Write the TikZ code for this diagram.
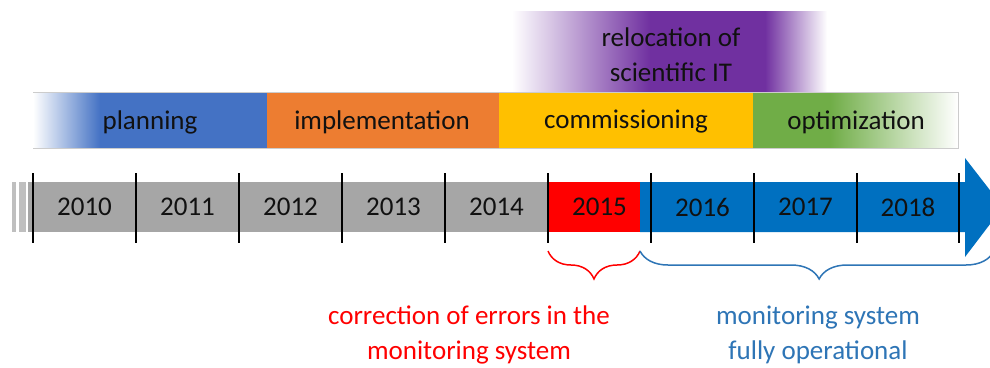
\documentclass[tikz,border=0pt]{standalone}
\usepackage{fontspec}
\setmainfont{Carlito}
\usetikzlibrary{decorations.pathreplacing}

\definecolor{planblue}{HTML}{4472C4}
\definecolor{implorange}{HTML}{ED7D31}
\definecolor{commyellow}{HTML}{FFC000}
\definecolor{optgreen}{HTML}{70AD47}
\definecolor{relpurple}{HTML}{7030A0}
\definecolor{yeargray}{HTML}{A6A6A6}
\definecolor{stubgray}{HTML}{BFBFBF}
\definecolor{lineblue}{HTML}{0070C0}
\definecolor{errred}{HTML}{FF0000}
\definecolor{opblue}{HTML}{2E75B6}
\definecolor{inkdark}{HTML}{111111}

\tikzset{
  label27/.style={text=inkdark, font=\fontsize{27}{35}\selectfont, inner sep=0pt, align=center},
  yearlabel/.style={label27},
  tick/.style={draw=black, line width=2.8pt},
  bracebase/.style={decorate, line width=1.5pt,
    decoration={brace, mirror, amplitude=28pt}},
}

\begin{document}
\begin{tikzpicture}[x=1pt, y=-1pt]
  \clip (0,0) rectangle (990,367);
  \fill[white] (0,0) rectangle (990,367);

  % relocation band with soft edges
  \shade[left color=white, right color=relpurple] (512,11) rectangle (650,92);
  \fill[relpurple] (649.5,11) rectangle (765.5,92);
  \shade[left color=relpurple, right color=white] (765,11) rectangle (827,92);
  \node[label27] (reloc) at (671,54.5) {relocation of\\scientific IT};

  % project phases
  \shade[left color=white, right color=planblue] (33,93) rectangle (100,148);
  \fill[planblue] (99.5,93) rectangle (267,148);
  \fill[implorange] (267,93) rectangle (499,148);
  \fill[commyellow] (499,93) rectangle (753,148);
  \fill[optgreen] (753,93) rectangle (830.5,148);
  \shade[left color=optgreen, right color=white] (830,93) rectangle (958,148);
  \draw[black!20, line width=0.7pt] (33,92.6) -- (958,92.6) -- (958,148.4) -- (33,148.4);
  \node[label27] (planning) at (150,122) {planning};
  \node[label27] (implementation) at (382,122) {implementation};
  \node[label27] (commissioning) at (626,122) {commissioning};
  \node[label27] (optimization) at (856,122) {optimization};

  % timeline bar
  \fill[stubgray] (12,182) rectangle (15.5,232);
  \fill[stubgray] (18.5,182) rectangle (25.5,232);
  \fill[yeargray] (28,182) rectangle (548,232);
  \fill[errred] (548,182) rectangle (640,232);
  \fill[lineblue] (640,182) -- (965,182) -- (965,158) -- (1003,207)
    -- (965,257) -- (965,232) -- (640,232) -- cycle;

  % year ticks
  \foreach \x in {33,136,239,342,445,548,651,754,857,959}
    \draw[tick] (\x,173) -- (\x,243);

  % year labels
  \node[yearlabel] (y2010) at (84.5,207) {2010};
  \node[yearlabel] (y2011) at (187.5,207) {2011};
  \node[yearlabel] (y2012) at (290.5,207) {2012};
  \node[yearlabel] (y2013) at (393.5,207) {2013};
  \node[yearlabel] (y2014) at (496.5,207) {2014};
  \node[yearlabel] (y2015) at (599.5,207) {2015};
  \node[yearlabel] (y2016) at (702.5,207) {2016};
  \node[yearlabel] (y2017) at (805.5,207) {2017};
  \node[yearlabel] (y2018) at (908,207) {2018};

  % braces below the timeline
  \coordinate (errstart) at (548,251);
  \coordinate (errend) at (640,251);
  \coordinate (opend) at (994,251);
  \draw[bracebase, errred] (errstart) -- (errend);
  \draw[bracebase, opblue, decoration={aspect=0.506}] (errend) -- (opend);

  % descriptions
  \node[label27, text=errred] (errors) at (469,335)
    {correction of errors in the\\monitoring system};
  \node[label27, text=opblue] (operational) at (818,335)
    {monitoring system\\fully operational};
\end{tikzpicture}
\end{document}
